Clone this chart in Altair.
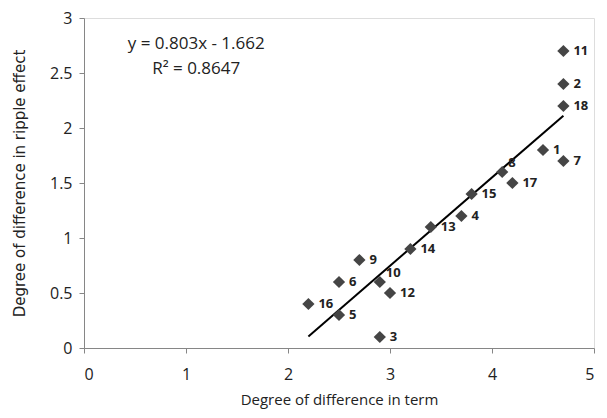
import altair as alt
import pandas as pd

ids = ["11", "2", "18", "1", "7", "8", "17", "15", "4", "13", "14", "9", "6", "10", "12", "16", "5", "3"]
term = [4.7, 4.7, 4.7, 4.5, 4.7, 4.1, 4.2, 3.8, 3.7, 3.4, 3.2, 2.7, 2.5, 2.9, 3.0, 2.2, 2.5, 2.9]
ripple = [2.7, 2.4, 2.2, 1.8, 1.7, 1.6, 1.5, 1.4, 1.2, 1.1, 0.9, 0.8, 0.6, 0.6, 0.5, 0.4, 0.3, 0.1]
raised_labels = ["8", "10"]

eq_text = ["y = 0.803x - 1.662", "R² = 0.8647"]
eq_x = [1.1, 1.1]
eq_y = [2.765, 2.54]

x_ticks = [0, 1, 2, 3, 4, 5]
y_ticks = [0, 0.5, 1, 1.5, 2, 2.5, 3]

df = pd.DataFrame({"id": ids, "x": term, "y": ripple})
eq = pd.DataFrame({"t": eq_text, "x": eq_x, "y": eq_y})

FONT = "Open Sans"
xs = alt.Scale(domain=[0, 5], nice=False)
ys = alt.Scale(domain=[0, 3], nice=False)

base = alt.Chart(df)

points = base.mark_point(shape="diamond", filled=True, size=150, color="#454545", opacity=1).encode(
    x=alt.X("x:Q", scale=xs, title="Degree of difference in term",
            axis=alt.Axis(values=x_ticks, format="~g", grid=False, tickSize=5, domainColor="#868686",
                          tickColor="#868686", labelFontSize=16, titleFontSize=15, labelFont=FONT,
                          titleFont=FONT, titleFontWeight="normal", labelColor="#222", titleColor="#222",
                          labelPadding=13, titlePadding=10)),
    y=alt.Y("y:Q", scale=ys, title="Degree of difference in ripple effect",
            axis=alt.Axis(values=y_ticks, format="~g", grid=False, tickSize=5, domainColor="#868686",
                          tickColor="#868686", labelFontSize=16, titleFontSize=15, labelFont=FONT,
                          titleFont="DejaVu Sans", titleFontWeight="normal", labelColor="#222",
                          titleColor="#222", labelPadding=7, titlePadding=22)),
)

cond = alt.FieldOneOfPredicate(field="id", oneOf=raised_labels)

labels = base.transform_filter(~cond).mark_text(
    align="left", baseline="middle", dx=10, fontSize=13, fontWeight="bold", font=FONT, color="#222"
).encode(x=alt.X("x:Q", scale=xs), y=alt.Y("y:Q", scale=ys), text="id:N")

labels_up = base.transform_filter(cond).mark_text(
    align="left", baseline="middle", dx=6, dy=-9, fontSize=13, fontWeight="bold", font=FONT, color="#222"
).encode(x=alt.X("x:Q", scale=xs), y=alt.Y("y:Q", scale=ys), text="id:N")

trend = base.transform_regression("x", "y").mark_line(color="black", strokeWidth=2).encode(
    x=alt.X("x:Q", scale=xs), y=alt.Y("y:Q", scale=ys))

eqtext = alt.Chart(eq).mark_text(align="center", baseline="middle", fontSize=17, font=FONT,
                                 color="#222").encode(
    x=alt.X("x:Q", scale=xs), y=alt.Y("y:Q", scale=ys), text="t:N")

chart = (trend + points + labels + labels_up + eqtext).properties(
    width=510, height=330,
    autosize=alt.AutoSizeParams(type="none"),
    padding={"left": 76, "top": 10, "right": 5, "bottom": 62},
).configure_view(stroke="#868686", strokeWidth=1).configure(background="white")

chart.save("out.html", embed_options={"renderer": "svg", "actions": False})
